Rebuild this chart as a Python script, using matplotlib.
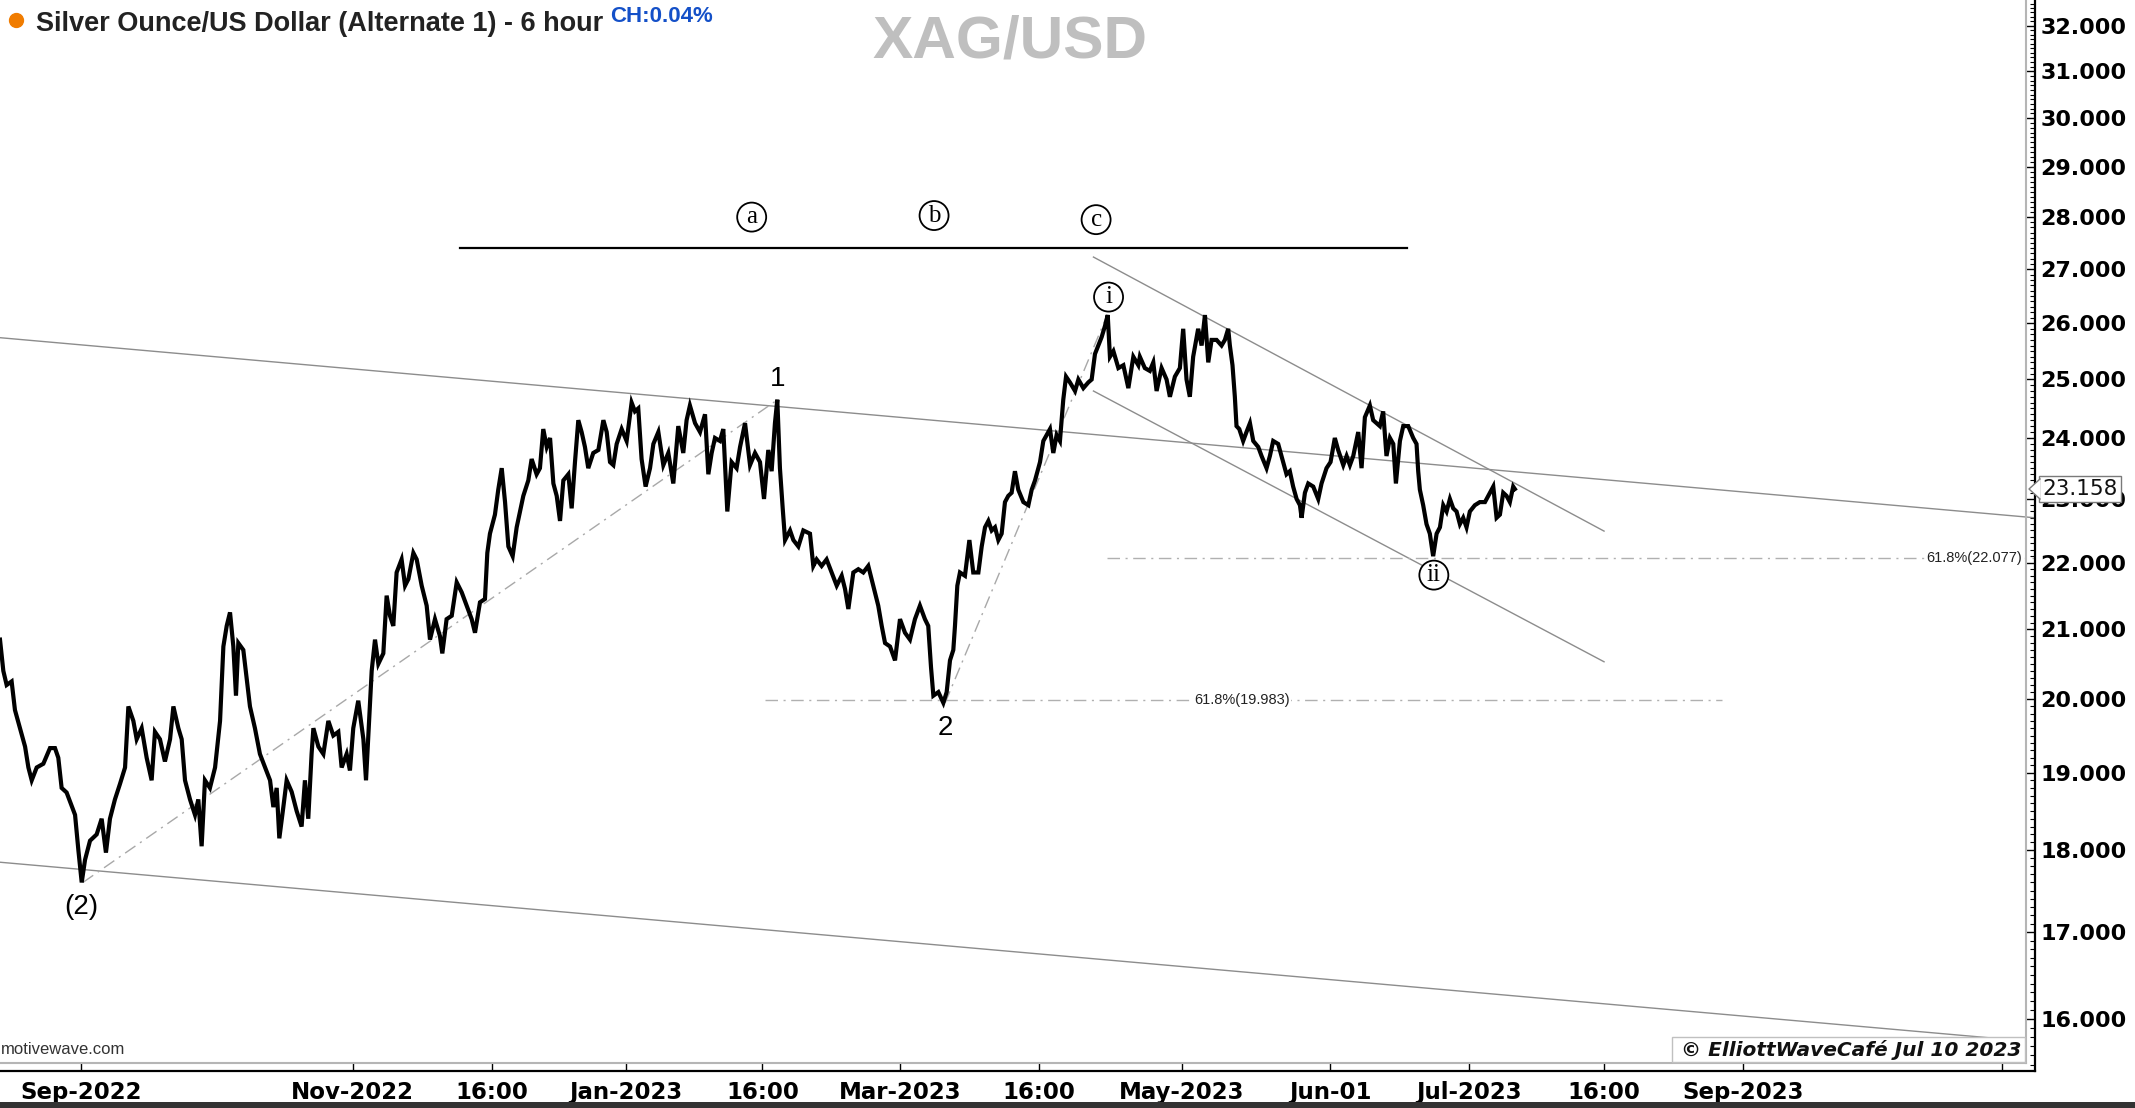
import matplotlib
matplotlib.use("Agg")
import matplotlib.pyplot as plt
from matplotlib.ticker import FixedLocator, FuncFormatter, NullFormatter
from matplotlib.lines import Line2D
from matplotlib.patches import Rectangle, Polygon
from matplotlib.transforms import blended_transform_factory

# ---------------- data (x = months since Sep-2022, y = price) ----------------
months = [
    -0.585, -0.561, -0.537, -0.501, -0.477, -0.441, -0.404, -0.380, -0.356, -0.320,
    -0.272, -0.224, -0.188, -0.164, -0.140, -0.104, -0.068, -0.043, -0.019, 0.005,
    0.029, 0.065, 0.113, 0.149, 0.180, 0.209, 0.245, 0.281, 0.318, 0.342,
    0.378, 0.402, 0.438, 0.474, 0.510, 0.534, 0.570, 0.606, 0.643, 0.667,
    0.703, 0.727, 0.751, 0.787, 0.823, 0.847, 0.871, 0.895, 0.931, 0.968,
    1.004, 1.028, 1.052, 1.076, 1.100, 1.119, 1.136, 1.172, 1.196, 1.220,
    1.256, 1.292, 1.329, 1.365, 1.389, 1.413, 1.432, 1.461, 1.485, 1.521,
    1.557, 1.593, 1.617, 1.641, 1.665, 1.678, 1.714, 1.750, 1.786, 1.822,
    1.858, 1.882, 1.918, 1.942, 1.966, 2.002, 2.039, 2.058, 2.075, 2.099,
    2.123, 2.147,
    2.183, 2.207, 2.231, 2.255, 2.279, 2.315, 2.340, 2.364, 2.400, 2.424,
    2.460, 2.496, 2.520, 2.556, 2.592, 2.609, 2.640, 2.677, 2.713, 2.749,
    2.785, 2.821, 2.845, 2.881, 2.917, 2.934, 2.953, 2.989, 3.013, 3.038,
    3.062, 3.086, 3.117, 3.146, 3.170, 3.194, 3.230, 3.254, 3.290, 3.314,
    3.338, 3.363, 3.387, 3.411, 3.435, 3.459, 3.483, 3.519, 3.543, 3.567,
    3.591, 3.615, 3.639, 3.663, 3.699, 3.736, 3.772, 3.796, 3.820, 3.844,
    3.868, 3.904, 3.940, 3.976, 4.000, 4.024, 4.048, 4.077, 4.109, 4.133,
    4.169, 4.205, 4.241, 4.277, 4.313, 4.349, 4.373, 4.397, 4.434, 4.470,
    4.506, 4.530, 4.554, 4.578, 4.614, 4.638, 4.667, 4.698, 4.734, 4.759,
    4.795, 4.831, 4.867, 4.903, 4.932, 4.963, 4.987, 5.011, 5.028, 5.047,
    5.067, 5.084,
    5.120, 5.144, 5.180, 5.216, 5.264, 5.288, 5.312, 5.348, 5.384, 5.420,
    5.457, 5.493, 5.517, 5.541, 5.577, 5.613, 5.649, 5.685, 5.721, 5.757,
    5.782, 5.806, 5.842, 5.878, 5.914, 5.950, 5.986, 6.022, 6.058, 6.094,
    6.118, 6.138, 6.155, 6.191, 6.227, 6.251, 6.275, 6.299, 6.311, 6.328,
    6.347, 6.383, 6.415, 6.443, 6.480, 6.504, 6.528, 6.552, 6.576, 6.600,
    6.624, 6.648, 6.672, 6.696, 6.720, 6.744, 6.768, 6.805, 6.841, 6.865,
    6.889, 6.925, 6.949, 6.973, 6.997, 7.021, 7.045, 7.069, 7.093, 7.113,
    7.141, 7.178, 7.202, 7.238, 7.274, 7.298, 7.322, 7.346, 7.370, 7.394,
    7.414, 7.430, 7.455, 7.491, 7.527, 7.563, 7.599, 7.635,
    7.646, 7.682, 7.718, 7.743, 7.767, 7.803, 7.839, 7.863, 7.899, 7.935,
    7.959, 7.983, 8.007, 8.031, 8.067, 8.092, 8.116, 8.140, 8.164, 8.200,
    8.236, 8.260, 8.284, 8.296, 8.315, 8.332, 8.344, 8.364, 8.392, 8.416,
    8.441, 8.465, 8.501, 8.525, 8.561, 8.585, 8.609, 8.645, 8.669, 8.705,
    8.729, 8.753, 8.778, 8.802, 8.814, 8.838, 8.862, 8.898, 8.934, 8.958,
    8.994, 9.023, 9.054, 9.078, 9.115, 9.139, 9.163, 9.187, 9.223, 9.247,
    9.271, 9.307, 9.331, 9.355, 9.379, 9.403, 9.427, 9.452, 9.476, 9.495,
    9.524, 9.548, 9.584, 9.620, 9.644, 9.656, 9.668, 9.692, 9.716, 9.740,
    9.764, 9.789, 9.813, 9.837, 9.861, 9.885, 9.909, 9.933, 9.957, 9.981,
    10.005, 10.029, 10.065, 10.101, 10.138, 10.174, 10.198, 10.222, 10.246, 10.270,
    10.294, 10.318, 10.342, 10.354,
]
prices = [
    20.85, 20.40, 20.20, 20.25, 19.85, 19.60, 19.35, 19.07, 18.90, 19.07,
    19.12, 19.33, 19.33, 19.20, 18.80, 18.74, 18.57, 18.45, 18.00, 17.60,
    17.88, 18.12, 18.20, 18.40, 17.97, 18.40, 18.65, 18.85, 19.07, 19.90,
    19.70, 19.45, 19.60, 19.20, 18.90, 19.55, 19.45, 19.15, 19.45, 19.90,
    19.60, 19.45, 18.90, 18.65, 18.45, 18.65, 18.05, 18.90, 18.80, 19.07,
    19.70, 20.75, 21.05, 21.25, 20.75, 20.05, 20.80, 20.70, 20.30, 19.90,
    19.60, 19.25, 19.07, 18.90, 18.55, 18.80, 18.15, 18.55, 18.90, 18.75,
    18.50, 18.30, 18.90, 18.40, 19.25, 19.60, 19.35, 19.25, 19.70, 19.50,
    19.55, 19.07, 19.25, 19.03, 19.60, 19.98, 19.45, 18.90, 19.50, 20.40,
    20.85, 20.50,
    20.65, 21.50, 21.20, 21.05, 21.85, 22.05, 21.65, 21.75, 22.15, 22.05,
    21.65, 21.35, 20.85, 21.15, 20.90, 20.65, 21.15, 21.20, 21.70, 21.55,
    21.35, 21.15, 20.95, 21.40, 21.45, 22.15, 22.45, 22.75, 23.15, 23.50,
    22.95, 22.25, 22.10, 22.55, 22.80, 23.05, 23.30, 23.65, 23.40, 23.50,
    24.15, 23.85, 24.00, 23.25, 23.05, 22.65, 23.30, 23.40, 22.85, 23.60,
    24.30, 24.10, 23.85, 23.50, 23.75, 23.80, 24.30, 24.10, 23.60, 23.55,
    23.90, 24.15, 23.95, 24.60, 24.45, 24.50, 23.65, 23.20, 23.50, 23.90,
    24.10, 23.55, 23.75, 23.25, 24.20, 23.75, 24.30, 24.55, 24.25, 24.10,
    24.40, 23.40, 23.75, 24.00, 23.95, 24.15, 22.80, 23.60, 23.50, 23.85,
    24.25, 23.55, 23.75, 23.60, 23.00, 23.80, 23.45, 24.25, 24.65, 23.50,
    22.85, 22.35,
    22.50, 22.35, 22.25, 22.50, 22.45, 21.95, 22.05, 21.95, 22.05, 21.85,
    21.65, 21.80, 21.60, 21.30, 21.85, 21.90, 21.85, 21.95, 21.65, 21.35,
    21.05, 20.80, 20.75, 20.55, 21.15, 20.95, 20.85, 21.15, 21.35, 21.15,
    21.05, 20.45, 20.05, 20.10, 19.95, 20.10, 20.55, 20.70, 21.05, 21.65,
    21.85, 21.80, 22.35, 21.85, 21.85, 22.25, 22.55, 22.65, 22.50, 22.55,
    22.35, 22.45, 22.95, 23.05, 23.10, 23.45, 23.15, 22.95, 22.90, 23.15,
    23.30, 23.60, 23.95, 24.05, 24.15, 23.75, 24.05, 23.95, 24.65, 25.05,
    24.95, 24.80, 25.00, 24.85, 24.95, 25.00, 25.45, 25.60, 25.75, 25.95,
    26.15, 25.40, 25.50, 25.20, 25.25, 24.85, 25.40, 25.25,
    25.40, 25.20, 25.15, 25.30, 24.80, 25.20, 25.00, 24.70, 25.05, 25.20,
    25.90, 25.00, 24.70, 25.40, 25.90, 25.60, 26.15, 25.30, 25.70, 25.70,
    25.60, 25.70, 25.90, 25.60, 25.25, 24.70, 24.20, 24.15, 23.95, 24.10,
    24.25, 23.95, 23.85, 23.70, 23.50, 23.70, 23.95, 23.90, 23.70, 23.40,
    23.45, 23.20, 23.00, 22.90, 22.70, 23.10, 23.25, 23.20, 23.00, 23.25,
    23.50, 23.60, 24.00, 23.80, 23.55, 23.70, 23.55, 23.70, 24.10, 23.50,
    24.35, 24.55, 24.30, 24.25, 24.20, 24.45, 23.70, 24.00, 23.90, 23.25,
    23.95, 24.20, 24.20, 24.00, 23.90, 23.45, 23.15, 22.90, 22.60, 22.45,
    22.10, 22.45, 22.55, 22.90, 22.80, 23.00, 22.85, 22.80, 22.60, 22.70,
    22.55, 22.80, 22.90, 22.95, 22.95, 23.10, 23.20, 22.70, 22.75, 23.10,
    23.05, 22.95, 23.20, 23.16,
]

date_tick_pos = [0, 1.962, 2.965, 3.938, 4.921, 5.914, 6.917, 7.95, 9.02, 10.02,
                 10.998, 12.0, 13.87]
date_tick_labels = ["Sep-2022", "Nov-2022", "16:00", "Jan-2023", "16:00", "Mar-2023",
                    "16:00", "May-2023", "Jun-01", "Jul-2023", "16:00", "Sep-2023", ""]
price_ticks = [16, 17, 18, 19, 20, 21, 22, 23, 24, 25, 26, 27, 28, 29, 30, 31, 32]
last_price = 23.158

# trend lines (month, price) endpoints
upper_trend_m, upper_trend_p = [-0.585, 14.11], [25.74, 22.70]
lower_trend_m, lower_trend_p = [-0.585, 14.016], [17.85, 15.76]
chan_upper_m, chan_upper_p = [7.311, 10.998], [27.23, 22.49]
chan_lower_m, chan_lower_p = [7.311, 10.998], [24.80, 20.53]
wave_a_m, wave_a_p = [0.014, 5.03], [17.60, 24.65]
wave_b_m, wave_b_p = [6.24, 7.41], [19.95, 26.15]
abc_line_m, abc_line_p = [2.738, 9.572], [27.41, 27.41]
fib1_m, fib1_level = [4.941, 11.853], 19.983
fib2_m, fib2_level = [7.409, 14.11], 22.077

W, H = 2135, 1108
fig = plt.figure(figsize=(W / 100, H / 100), dpi=100)
fig.patch.set_facecolor("white")

ax_left, ax_right, ax_top, ax_bottom = 0, 2035, 0, 1071
ax = fig.add_axes([ax_left / W, 1 - ax_bottom / H, (ax_right - ax_left) / W, (ax_bottom - ax_top) / H])
ax.set_yscale("log")
ax.set_xlim(-0.585, 14.11)
ax.set_ylim(15.43, 32.58)

# series
ax.plot(months, prices, color="black", lw=3.0, zorder=4, solid_joinstyle="miter")

gray = "#8c8c8c"
ax.plot(upper_trend_m, upper_trend_p, color=gray, lw=1.0, zorder=2)
ax.plot(lower_trend_m, lower_trend_p, color=gray, lw=1.0, zorder=2)
ax.plot(chan_upper_m, chan_upper_p, color=gray, lw=1.0, zorder=2)
ax.plot(chan_lower_m, chan_lower_p, color=gray, lw=1.0, zorder=2)
dd = (0, (9, 4, 1.5, 4))
ax.plot(wave_a_m, wave_a_p, color="#a8a8a8", lw=1.0, ls=dd, zorder=2)
ax.plot(wave_b_m, wave_b_p, color="#a8a8a8", lw=1.0, ls=dd, zorder=2)
ax.plot(abc_line_m, abc_line_p, color="black", lw=1.6, zorder=3)
ax.plot(fib1_m, [fib1_level] * 2, color="#b0b0b0", lw=1.0, ls=dd, zorder=2)
ax.plot(fib2_m, [fib2_level] * 2, color="#b0b0b0", lw=1.0, ls=dd, zorder=2)
ax.text(8.383, fib1_level, "61.8%(19.983)", fontsize=10.5, family="Liberation Sans",
        ha="center", va="center", color="#222222", zorder=5,
        bbox=dict(boxstyle="square,pad=0.1", fc="white", ec="none"))
ax.text(14.016, fib2_level, "61.8%(22.077)", fontsize=10.5, family="Liberation Sans",
        ha="right", va="center", color="#222222", zorder=5,
        bbox=dict(boxstyle="square,pad=0.1", fc="white", ec="none"))

# wave labels
for m, p, t in [(5.03, 25.0, "1"), (6.24, 19.6, "2"), (0.005, 17.3, "(2)")]:
    ax.text(m, p, t, fontsize=20, family="Liberation Sans", ha="center", va="center",
            color="black", zorder=6)
for m, p, t in [(4.843, 28.0, "a"), (6.160, 28.03, "b"), (7.330, 27.95, "c"),
                (7.420, 26.48, "i"), (9.769, 21.81, "ii")]:
    ax.text(m, p, t, fontsize=18, family="Liberation Serif", ha="center", va="center",
            color="black", zorder=6,
            bbox=dict(boxstyle="circle,pad=0.14", fc="white", ec="black", lw=1.3))

# axes styling
for s in ["top", "left"]:
    ax.spines[s].set_visible(False)
ax.spines["right"].set_linewidth(1.6)
ax.spines["bottom"].set_linewidth(1.6)
ax.yaxis.tick_right()
ax.yaxis.set_major_locator(FixedLocator(price_ticks))
ax.yaxis.set_major_formatter(FuncFormatter(lambda v, pos: f"{v:.3f}"))
minor = [round(15.5 + 0.1 * k, 1) for k in range(0, 171)]
ax.yaxis.set_minor_locator(FixedLocator(minor))
ax.yaxis.set_minor_formatter(NullFormatter())
ax.tick_params(axis="y", which="major", direction="in", length=7, width=1.0, pad=4,
               labelsize=16, colors="black")
ax.tick_params(axis="y", which="minor", direction="in", length=3.5, width=0.8)
ax.xaxis.set_major_locator(FixedLocator(date_tick_pos))
ax.set_xticklabels(date_tick_labels)
ax.tick_params(axis="x", which="major", direction="in", length=6, width=1.0, pad=7,
               labelsize=16.5)
ax.xaxis.set_minor_locator(FixedLocator([]))
for lab in ax.get_yticklabels() + ax.get_xticklabels():
    lab.set_fontweight("bold")
    lab.set_family("DejaVu Sans")

# last price marker
trans = blended_transform_factory(ax.transAxes, ax.transData)
ax.annotate(f"{last_price:.3f}", xy=(1.0, last_price), xycoords=trans, xytext=(5, 0),
            textcoords="offset points", ha="left", va="center", fontsize=15.5,
            family="DejaVu Sans", color="#111111", zorder=10, annotation_clip=False,
            bbox=dict(boxstyle="square,pad=0.15", fc="white", ec="#7a7a7a", lw=1.0))
# little arrow tip of the price box
y_last = 1 - 489 / H
fig.add_artist(Polygon([(2029 / W, y_last), (2040 / W, y_last + 10 / H), (2040 / W, y_last - 10 / H)],
                       closed=True, transform=fig.transFigure, fc="white", ec="none", zorder=11))
fig.add_artist(Line2D([2040 / W, 2029 / W, 2040 / W], [y_last + 10 / H, y_last, y_last - 10 / H],
                      transform=fig.transFigure, color="#7a7a7a", lw=1.0, zorder=12))

# inner gray frame
fig.add_artist(Line2D([0, 2026 / W], [1 - 1063 / H] * 2, transform=fig.transFigure,
                      color="#b5b5b5", lw=1.5))
fig.add_artist(Line2D([2026 / W] * 2, [1 - 1063 / H, 1], transform=fig.transFigure,
                      color="#b5b5b5", lw=1.5))
# bottom dark band
fig.add_artist(Rectangle((0, 0), 1, 6 / H, transform=fig.transFigure, fc="#333333", ec="none"))

# titles
fig.add_artist(Line2D([16 / W], [1 - 20 / H], transform=fig.transFigure, marker="o",
                      markersize=10, color="#f07c00", ls="none"))
fig.text(36 / W, 1 - 24 / H, "Silver Ounce/US Dollar (Alternate 1) - 6 hour",
         fontsize=19.5, fontweight="bold", family="Liberation Sans", color="#222222",
         ha="left", va="center")
fig.text(610 / W, 1 - 17 / H, "CH:0.04%", fontsize=16, fontweight="bold",
         family="Liberation Sans", color="#1450c8", ha="left", va="center")
fig.text(1010 / W, 1 - 42 / H, "XAG/USD", fontsize=43.5, fontweight="bold",
         family="Liberation Sans", color="#bfbfbf", ha="center", va="center")

# footer texts
fig.text(1 / W, 1 - 1050 / H, "motivewave.com", fontsize=12, family="Liberation Sans",
         color="#333333", ha="left", va="center")
fig.add_artist(Rectangle((1672 / W, 1 - 1062 / H), 353 / W, 25 / H, transform=fig.transFigure,
                         fc="white", ec="#c0c0c0", lw=1.0, zorder=8))
t = fig.text(2021 / W, 1 - 1050 / H, "\u00a9 ElliottWaveCaf\u00e9 Jul 10 2023", fontsize=14.5,
             family="DejaVu Sans", style="italic", fontweight="bold", color="#111111",
             ha="right", va="center")
t.set_zorder(9)

fig.savefig("out.png", dpi=100)
